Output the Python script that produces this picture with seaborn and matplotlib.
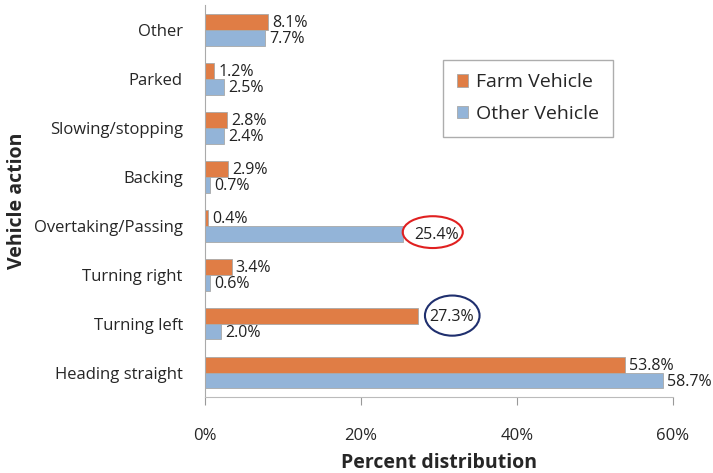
import pandas as pd
import matplotlib.pyplot as plt
import seaborn as sns
from matplotlib.patches import Ellipse
from matplotlib.ticker import FuncFormatter

actions = ["Other", "Parked", "Slowing/stopping", "Backing", "Overtaking/Passing",
           "Turning right", "Turning left", "Heading straight"]
farm = [8.1, 1.2, 2.8, 2.9, 0.4, 3.4, 27.3, 53.8]
other = [7.7, 2.5, 2.4, 0.7, 25.4, 0.6, 2.0, 58.7]
series = ["Farm Vehicle", "Other Vehicle"]
colors = ["#E07D45", "#93B4D8"]

df = pd.DataFrame({
    "action": actions * 2,
    "pct": farm + other,
    "vehicle": [series[0]] * len(actions) + [series[1]] * len(actions),
})

sns.set_style("white")
plt.rcParams["font.family"] = ["Open Sans", "DejaVu Sans"]

fig = plt.figure(figsize=(7.13, 4.73), dpi=100)
ax = fig.add_axes([0.2875, 0.1607, 0.6564, 0.828])
sns.barplot(data=df, y="action", x="pct", hue="vehicle", order=actions,
            hue_order=series, palette=colors, saturation=1, orient="h", width=0.65,
            edgecolor="#a8a8a8", linewidth=0.6, ax=ax)

# which labels get circled: (series index, action)
circled = {(1, "Overtaking/Passing"): "#e02020", (0, "Turning left"): "#1f2f6e"}

for si, cont in enumerate(ax.containers):
    for act, bar in zip(actions, cont):
        w = bar.get_width()
        yc = bar.get_y() + bar.get_height() / 2
        off = 8 if (si, act) in circled else 3
        ax.annotate(f"{w:.1f}%", (w, yc), xytext=(off, -1), textcoords="offset points",
                    va="center", ha="left", fontsize=11.5, color="#222222")

# highlight ellipses around two labels
b = ax.containers[1][actions.index("Overtaking/Passing")]
ax.add_patch(Ellipse((b.get_width() + 3.8, b.get_y() + b.get_height() / 2 - 0.03),
                     width=7.7, height=0.65, fill=False, edgecolor="#e02020", lw=1.5))
b = ax.containers[0][actions.index("Turning left")]
ax.add_patch(Ellipse((b.get_width() + 4.4, b.get_y() + b.get_height() / 2),
                     width=7.0, height=0.82, fill=False, edgecolor="#1f2f6e", lw=1.5))

ax.set_xlim(0, 60)
ax.set_xticks([0, 20, 40, 60])
ax.xaxis.set_major_formatter(FuncFormatter(lambda v, p: f"{v:.0f}%"))
ax.tick_params(axis="x", labelsize=12, length=6, direction="out", color="#999999",
               bottom=True, pad=16)
ax.tick_params(axis="y", labelsize=12, length=0, pad=16)
for s in ["top", "right"]:
    ax.spines[s].set_visible(False)
ax.spines["left"].set_color("#aaaaaa")
ax.spines["bottom"].set_color("#bbbbbb")
ax.set_ylabel("Vehicle action", fontsize=14, fontweight="bold", labelpad=5)
ax.set_xlabel("Percent distribution", fontsize=14, fontweight="bold", labelpad=7)

leg = ax.legend(loc="upper left", bbox_to_anchor=(0.509, 0.861), borderaxespad=0,
                fontsize=14, frameon=True, fancybox=False, edgecolor="#999999",
                handlelength=0.6, handleheight=0.6, handletextpad=0.4,
                borderpad=0.7, labelspacing=0.7)
leg.get_frame().set_linewidth(1.0)

fig.savefig("out.png", dpi=100)
